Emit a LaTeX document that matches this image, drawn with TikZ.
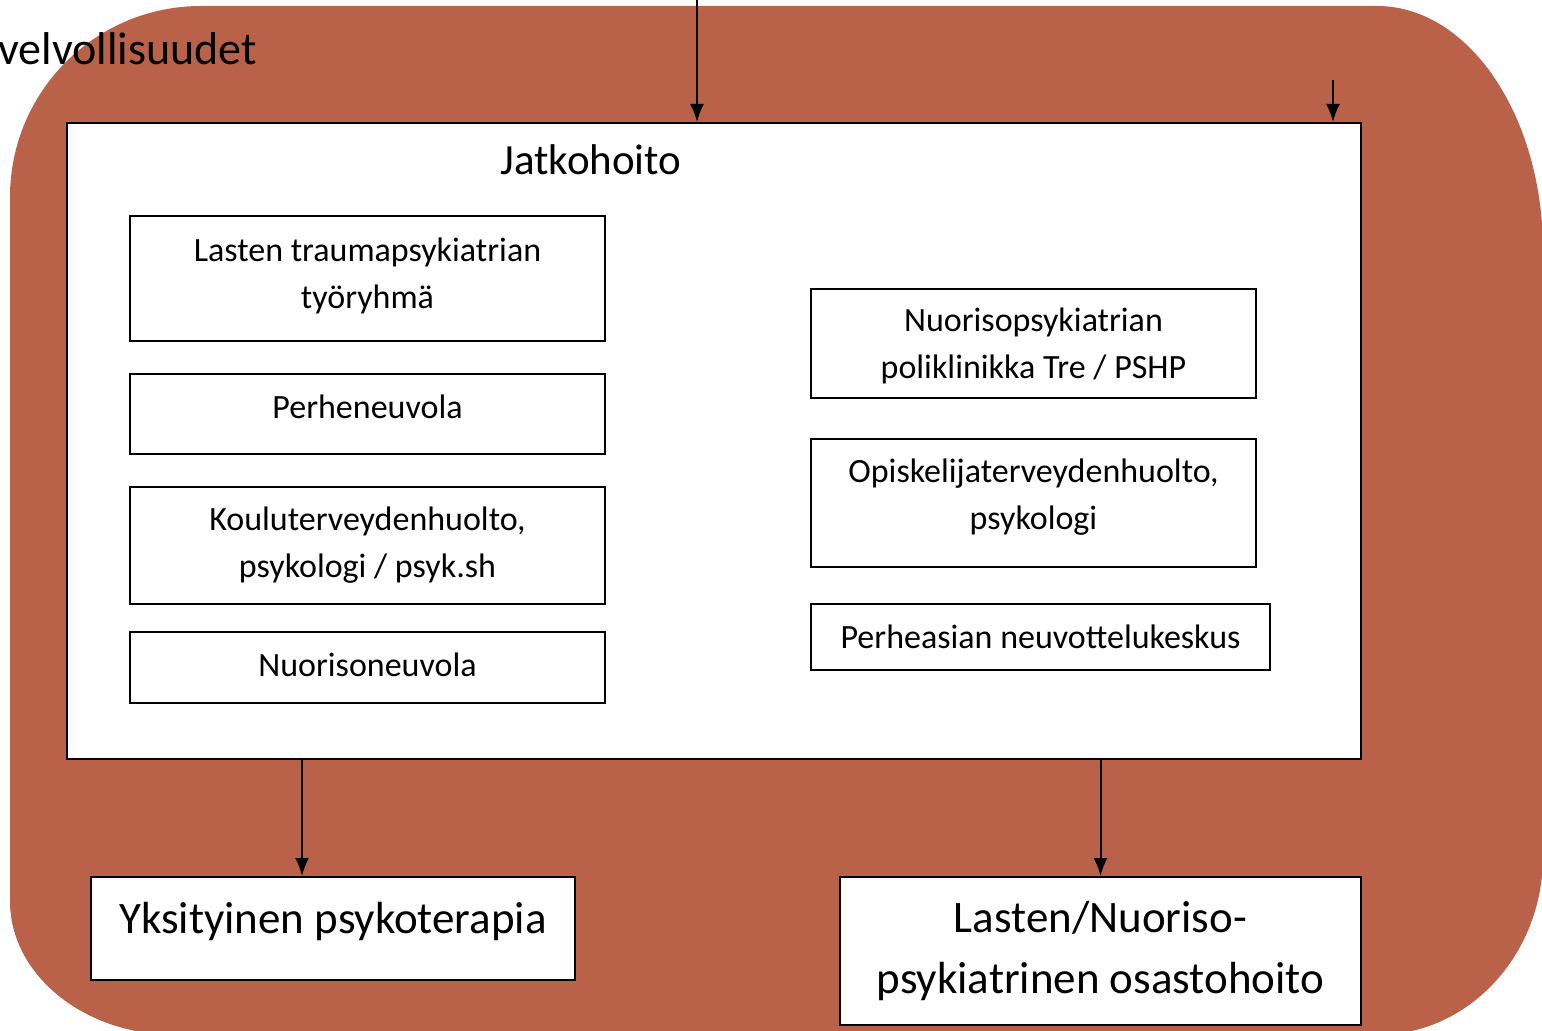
\documentclass[tikz,border=0pt]{standalone}
\usepackage{fontspec}
\setmainfont{Carlito}
\usepackage{tikz}
\usetikzlibrary{arrows.meta}
\tikzset{>={Latex[width=7pt,length=9pt]}}
\definecolor{rust}{RGB}{185,98,73}
\tikzset{
  unitbox/.style={draw=black, line width=1pt, fill=white, inner sep=0pt, align=center,
    font=\fontsize{17}{23.5}\selectfont},
  endbox/.style={draw=black, line width=1pt, fill=white, inner sep=0pt, align=center,
    font=\fontsize{22.5}{30.5}\selectfont},
  flow/.style={->, line width=1pt}
}

\begin{document}
\begin{tikzpicture}[x=0.5pt, y=-0.5pt]
    \useasboundingbox (0,0) rectangle (1542,1031);
    \clip (0,0) rectangle (1542,1031);
    % background
    \fill[rust] (201,6) -- (1377,6) .. controls (1468.7,6) and (1543,115.7) .. (1543,251)
      -- (1543,856) .. controls (1543,954.9) and (1468.7,1035) .. (1377,1035)
      -- (176,1035) .. controls (84.3,1035) and (10,975) .. (10,901)
      -- (10,197) .. controls (10,91.5) and (95.5,6) .. (201,6) -- cycle;
    \node[anchor=base west, inner sep=0pt, font=\fontsize{23}{28}\selectfont] (velv) at (-2,65) {velvollisuudet};
    \node[draw=black, line width=1pt, fill=white, minimum width=647pt, minimum height=318pt] (Jatko) at (714,441) {};
    \node[anchor=base, inner sep=0pt, font=\fontsize{21.5}{26}\selectfont] (title) at (591,175) {Jatkohoito};
    % left column
    \node[unitbox, minimum width=237.5pt, minimum height=62.5pt, text depth=5pt] (Trauma) at (367.5,278.5) {Lasten traumapsykiatrian\\työryhmä};
    \node[unitbox, minimum width=237.5pt, minimum height=40pt, text depth=7pt] (Perhe) at (367.5,414) {Perheneuvola};
    \node[unitbox, minimum width=237.5pt, minimum height=58.5pt] (Koulu) at (367.5,545.5) {Kouluterveydenhuolto,\\psykologi / psyk.sh};
    \node[unitbox, minimum width=237.5pt, minimum height=35.5pt, text depth=3pt] (NuorNeuv) at (367.5,667.5) {Nuorisoneuvola};
    % right column
    \node[unitbox, minimum width=222.5pt, minimum height=54.5pt, text depth=0pt] (NuorPoli) at (1033.5,343.5) {Nuorisopsykiatrian\\poliklinikka Tre / PSHP};
    \node[unitbox, minimum width=222.5pt, minimum height=64pt, text depth=8.5pt] (Opisk) at (1033.5,503) {Opiskelijaterveydenhuolto,\\psykologi};
    \node[unitbox, minimum width=229.5pt, minimum height=33pt] (PerheAsia) at (1040.5,637) {Perheasian neuvottelukeskus};
    % below
    \node[endbox, minimum width=242pt, minimum height=51.5pt, text height=16pt, text depth=11.5pt] (Yksit) at (333,928.5) {Yksityinen psykoterapia};
    \node[endbox, minimum width=260.5pt, minimum height=74pt] (Osasto) at (1100.5,951) {Lasten/Nuoriso-\\psykiatrinen osastohoito};
    \coordinate (in1) at (697,-10);
    \coordinate (in2) at (1333,80);
    \coordinate (out1) at (302,759);
    \draw[flow] (in1) -- (in1 |- Jatko.north);
    \draw[flow] (in2) -- (in2 |- Jatko.north);
    \draw[flow] (out1) -- (out1 |- Yksit.north);
    \draw[flow] (Osasto.north |- Jatko.south) -- (Osasto.north);
\end{tikzpicture}
\end{document}
